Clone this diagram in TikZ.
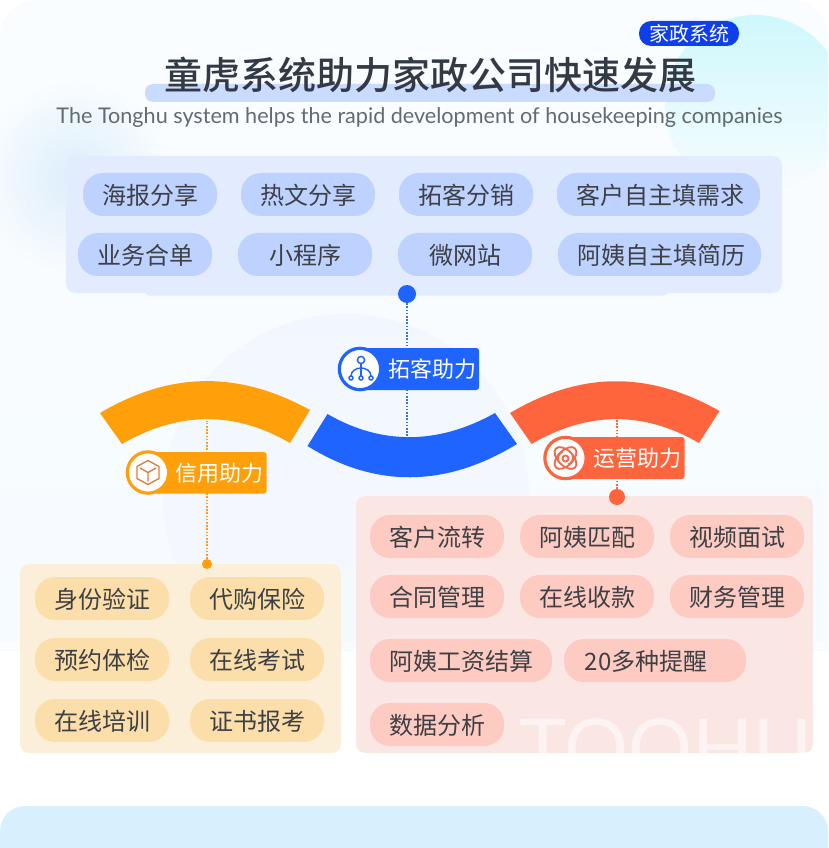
\documentclass[tikz,border=0pt]{standalone}
\usepackage{fontspec}
\setmainfont{Noto Sans CJK SC}
\newfontfamily\titlefont{Noto Sans CJK SC}[UprightFont=* Medium]
\newfontfamily\latinfont{Lato}
\usetikzlibrary{fadings}
\definecolor{ink}{HTML}{3E4045}
\definecolor{titleink}{HTML}{333A46}
\definecolor{subink}{HTML}{626A72}
\definecolor{panelbg}{HTML}{FAFDFF}
\definecolor{panelbgb}{HTML}{F6FBFF}
\definecolor{tealglow}{HTML}{CFF8FC}
\definecolor{blueglow}{HTML}{DDEEFB}
\definecolor{bigcircle}{HTML}{F1F5FE}
\definecolor{bluebox}{HTML}{E3EBFE}
\definecolor{bluepill}{HTML}{BDD2FF}
\definecolor{orangebox}{HTML}{FBEFD9}
\definecolor{orangepill}{HTML}{FBDEA9}
\definecolor{redbox}{HTML}{FAE6E3}
\definecolor{redpill}{HTML}{FDCBC1}
\definecolor{mainblue}{HTML}{1F64FF}
\definecolor{mainorange}{HTML}{FF9F0A}
\definecolor{mainred}{HTML}{FF653D}
\definecolor{bluedots}{HTML}{3F74C8}
\definecolor{badgeblue}{HTML}{0F3FE8}
\definecolor{titlebar}{HTML}{C9DBFF}
\definecolor{footer}{HTML}{D8EFFE}
\definecolor{cubeline}{HTML}{E07B3C}
\definecolor{atomline}{HTML}{EE6C4D}
\tikzfading[name=glowfade,inner color=transparent!0,outer color=transparent!100]
\tikzfading[name=downfade,top color=transparent!0,bottom color=transparent!100]
\tikzfading[name=softfade,top color=transparent!25,bottom color=transparent!85]
\tikzset{
  pillbase/.style={rounded corners=15pt,inner sep=0pt,text=ink,font=\fontsize{18}{18}\selectfont},
  pillblue/.style={pillbase,fill=bluepill},
  pillorange/.style={pillbase,fill=orangepill},
  pillred/.style={pillbase,fill=redpill},
  boxbase/.style={rounded corners=7pt},
  tagtext/.style={text=white,inner sep=0pt,anchor=west,font=\fontsize{16.5}{16.5}\selectfont},
  dotline/.style={line width=0.8pt,dash pattern=on 1.2pt off 1.2pt},
  ring/.style={fill=white,line width=2.4pt,circle,inner sep=0pt,minimum size=31pt},
}
\newcommand{\pill}[7]{%
  \pgfmathsetmacro\pw{(#5-#3)*0.75}%
  \pgfmathsetmacro\ph{(#6-#4)*0.75}%
  \node[#1,name=#2,minimum width=\pw pt,minimum height=\ph pt] at ({(#3+#5)/2},{(#4+#6)/2}) {\raisebox{-0.75pt}[\height][\depth]{#7}};}
\begin{document}
\begin{tikzpicture}[x=0.75pt,y=-0.75pt]
\useasboundingbox (0,0) rectangle (828,848);
\clip (0,0) rectangle (828,848);
\fill[white] (0,0) rectangle (828,848);
% top panel
\begin{scope}
\clip[rounded corners=28pt] (0,750) rectangle (828,0);
\clip (0,0) rectangle (828,650);
\shade[top color=panelbg,bottom color=panelbgb] (0,0) rectangle (828,650);
\fill[tealglow,path fading=downfade] (755,105) circle[radius=90];
\fill[blueglow,path fading=glowfade] (75,177) circle[radius=95];
\fill[bigcircle,path fading=softfade] (346,497) circle[radius=183];
\end{scope}
\fill[white,opacity=.45] (0,642) rectangle (828,650);
% footer
\fill[footer,rounded corners=19pt] (0,806) rectangle (828,880);
% title
\fill[titlebar,rounded corners=6pt] (145,84) rectangle (715,102);
\node[name=title,inner sep=0pt,text=titleink,font=\titlefont\fontsize{28.5}{28.5}\selectfont] at (430.5,75) {童虎系统助力家政公司快速发展};
\node[name=badge,fill=badgeblue,rounded corners=9pt,inner sep=0pt,minimum width=75pt,minimum height=18.75pt,text=white,font=\fontsize{15}{15}\selectfont] at (689,33.5) {家政系统};
\node[name=subtitle,inner sep=0pt,text=subink,font=\latinfont\fontsize{16.2}{16.2}\selectfont] at (419.5,117.5) {The Tonghu system helps the rapid development of housekeeping companies};
% containers
\fill[bluebox,rounded corners=3pt] (145,280) rectangle (668,295.5);
\fill[bluebox,boxbase] (66,156) rectangle (782,293);
\fill[orangebox,boxbase] (20,564) rectangle (341,753);
\fill[redbox,boxbase] (356,496) rectangle (813,753);
\begin{scope}
\clip[rounded corners=7pt] (356,496) rectangle (813,753);
\node[name=watermark,inner sep=0pt,anchor=base west,text=white,opacity=.55,font=\latinfont\fontsize{60}{60}\selectfont] at (519,776) {TOOHU};
\end{scope}
% blue pills
\pill{pillblue}{a1}{83}{173}{217}{216}{海报分享}
\pill{pillblue}{a2}{241}{173}{375}{216}{热文分享}
\pill{pillblue}{a3}{399}{173}{533}{216}{拓客分销}
\pill{pillblue}{a4}{557}{173}{760}{216}{\hspace*{3pt}客户自主填需求}
\pill{pillblue}{a5}{78}{233}{212}{276}{业务合单}
\pill{pillblue}{a6}{238}{233}{372}{276}{小程序}
\pill{pillblue}{a7}{398}{233}{532}{276}{微网站}
\pill{pillblue}{a8}{558}{233}{761}{276}{\hspace*{3pt}阿姨自主填简历}
% orange pills
\pill{pillorange}{b1}{35}{577}{169}{620}{身份验证}
\pill{pillorange}{b2}{190}{577}{324}{620}{代购保险}
\pill{pillorange}{b3}{35}{638}{169}{681}{预约体检}
\pill{pillorange}{b4}{190}{638}{324}{681}{在线考试}
\pill{pillorange}{b5}{35}{699}{169}{742}{在线培训}
\pill{pillorange}{b6}{190}{699}{324}{742}{证书报考}
% red pills
\pill{pillred}{c1}{370}{515}{504}{558}{客户流转}
\pill{pillred}{c2}{520}{515}{654}{558}{阿姨匹配}
\pill{pillred}{c3}{670}{515}{804}{558}{视频面试}
\pill{pillred}{c4}{370}{575}{504}{618}{合同管理}
\pill{pillred}{c5}{520}{575}{654}{618}{在线收款}
\pill{pillred}{c6}{670}{575}{804}{618}{财务管理}
\pill{pillred}{c7}{370}{639}{552}{682}{阿姨工资结算}
\pill{pillred}{c8}{564}{639}{746}{682}{\hspace*{-13.5pt}20多种提醒}
\pill{pillred}{c9}{370}{703}{504}{746}{数据分析}
% bands
\fill[mainorange] (100,413) .. controls (171,371) and (239,371) .. (310,410) -- (290,443) .. controls (235,411) and (179,411) .. (122,444) -- cycle;
\fill[mainblue] (327.5,414) .. controls (381,445) and (438,445) .. (495,413) -- (517,444) .. controls (445,488) and (375,488) .. (307.5,446) -- cycle;
\fill[mainred] (510,413) .. controls (581,371) and (649,371) .. (719.5,411) -- (699,443) .. controls (644,411) and (588,411) .. (531.6,444) -- cycle;
% dots and connectors
\coordinate (blueend) at (407,438);
\coordinate (orangeend) at (207,421);
\coordinate (redend) at (617,419);
\node[name=bluedot,circle,fill=mainblue,minimum size=13.5pt,inner sep=0pt] at (407,294) {};
\node[name=orangedot,circle,fill=mainorange,minimum size=7.5pt,inner sep=0pt] at (207,564) {};
\node[name=reddot,circle,fill=mainred,minimum size=12pt,inner sep=0pt] at (617,497) {};
\draw[dotline,draw=bluedots] (bluedot) -- (blueend);
\draw[dotline,draw=mainorange] (orangedot) -- (orangeend);
\draw[dotline,draw=mainred] (reddot) -- (redend);
% tags
\fill[mainblue,rounded corners=2pt] (360,348) rectangle (479,390);
\fill[mainorange,rounded corners=2pt] (147,452) rectangle (266.5,493.5);
\fill[mainred,rounded corners=2pt] (565,437) rectangle (684.5,479);
\node[name=bluering,ring,draw=mainblue] at (360,369) {};
\node[name=orangering,ring,draw=mainorange] at (148,472.5) {};
\node[name=redring,ring,draw=mainred] at (565.5,458) {};
\node[name=bluetag,tagtext] at (388,369.5) {拓客助力};
\node[name=orangetag,tagtext] at (175.5,473.5) {信用助力};
\node[name=redtag,tagtext] at (593,458.5) {运营助力};
% icon: network
\begin{scope}[shift={(bluering.center)},draw=mainblue,line width=1.1pt]
\draw (1,-9) circle[radius=3.6];
\draw (1,-5.4) -- (1,7);
\draw (-9,7) .. controls (-9,2) and (-4,-1) .. (1,-1) .. controls (6,-1) and (11,2) .. (11,7);
\draw (-9,9) circle[radius=2] (1,9) circle[radius=2] (11,9) circle[radius=2];
\end{scope}
% icon: cube
\begin{scope}[shift={(orangering.center)},draw=cubeline,line width=1pt,line join=round]
\draw (0,-12) -- (11,-6) -- (11,6) -- (0,12) -- (-11,6) -- (-11,-6) -- cycle;
\draw (0,0) -- (0,9) (0,0) -- (-8,-4.5) (0,0) -- (8,-4.5);
\end{scope}
% icon: atom
\begin{scope}[shift={(redring.center)},draw=atomline,line width=1.4pt]
\draw (0,0.5) circle[radius=3];
\draw[rotate=45] (0,0) ellipse[x radius=13.5,y radius=7.5];
\draw[rotate=-45] (0,0) ellipse[x radius=13.5,y radius=7.5];
\draw (-7,3) arc[start angle=160,end angle=250,radius=7.5];
\draw (7,-3) arc[start angle=-20,end angle=70,radius=7.5];
\end{scope}
\end{tikzpicture}
\end{document}
